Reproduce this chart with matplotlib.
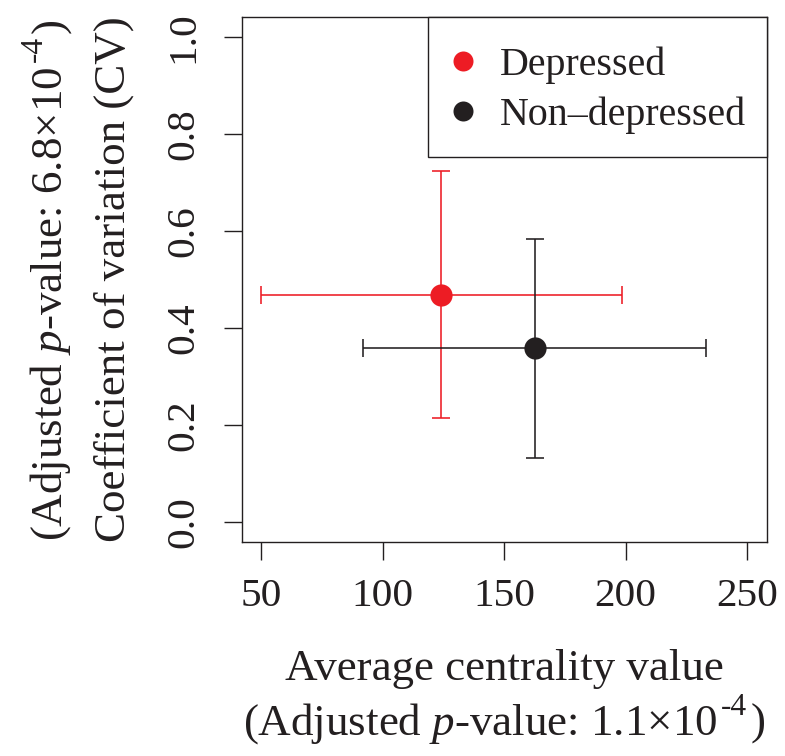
import matplotlib
matplotlib.use("Agg")
import matplotlib.pyplot as plt
from matplotlib.lines import Line2D
from matplotlib.patches import Rectangle
from matplotlib.transforms import IdentityTransform

plt.rcParams["font.family"] = ["Liberation Serif", "DejaVu Serif"]
plt.rcParams["mathtext.fontset"] = "custom"
plt.rcParams["mathtext.rm"] = "Liberation Serif"
plt.rcParams["mathtext.it"] = "Liberation Serif:italic"

# data
groups = ["Depressed", "Non\u2013depressed"]
colors = ["#ED1C24", "#231F20"]
centrality_mean = [124.2, 162.5]
centrality_err = [74.3, 70.5]
cv_mean = [0.469, 0.358]
cv_err = [0.254, 0.225]
x_ticks = [50, 100, 150, 200, 250]
y_ticks = [0.0, 0.2, 0.4, 0.6, 0.8, 1.0]

INK = "#231F20"
W, H = 785, 756
LABEL_SIZE = 32.4

fig = plt.figure(figsize=(W / 100, H / 100), dpi=100)
ax = fig.add_axes([241.7 / W, 1 - 541.7 / H, (766.7 - 241.7) / W, (541.7 - 17.3) / H])

for i in range(len(groups)):
    ax.errorbar(
        centrality_mean[i], cv_mean[i],
        xerr=centrality_err[i], yerr=cv_err[i],
        fmt="none", ecolor=colors[i],
        elinewidth=1.15, capsize=6.8, capthick=1.15, zorder=2
    )
    ax.plot(centrality_mean[i], cv_mean[i], "o", color=colors[i], ms=16, mew=0, zorder=3)

ax.set_xlim(42, 258)
ax.set_ylim(-0.04, 1.04)
ax.set_xticks(x_ticks)
ax.set_yticks(y_ticks)
ax.set_xticklabels([str(t) for t in x_ticks])
ax.set_yticklabels([f"{t:.1f}" for t in y_ticks])

for side in ax.spines.values():
    side.set_linewidth(1.0)
    side.set_color(INK)
ax.tick_params(axis="both", length=13, width=1.0, color=INK,
               labelsize=29.6, labelcolor=INK)
ax.tick_params(axis="x", pad=13)
ax.tick_params(axis="y", pad=15)
for lab in ax.get_yticklabels():
    lab.set_rotation(90)
    lab.set_va("center")

# legend: box drawn on its own, entries placed inside it
ax_w, ax_h = 766.7 - 241.7, 541.7 - 17.3
box_l, box_r, box_t, box_b = 428.3, 766.7, 17.3, 156.7
ax.add_patch(Rectangle(((box_l - 241.7) / ax_w, (541.7 - box_b) / ax_h),
                       (box_r - box_l) / ax_w, (box_b - box_t) / ax_h,
                       transform=ax.transAxes, facecolor="white", edgecolor=INK,
                       linewidth=1.0, zorder=4, clip_on=False))
handles = [
    Line2D([], [], linestyle="none", marker="o", ms=14.4, mew=0, color=c)
    for c in colors
]
leg = ax.legend(
    handles, groups, loc="center left",
    bbox_to_anchor=((453.3 - 241.7) / ax_w, (541.7 - 90) / ax_h),
    frameon=False, fontsize=28.8, borderpad=0, borderaxespad=0,
    labelspacing=0.3, handlelength=0.5, handletextpad=0.67
)
leg.set_zorder(5)
for t in leg.get_texts():
    t.set_color(INK)


def pval_line(pieces, center, baseline, rotated=False):
    # pieces: (text, size, raise_px, gap_after_px)
    renderer = fig.canvas.get_renderer()
    widths = []
    for s, size, _, _ in pieces:
        t = fig.text(0, 0, s, fontsize=size)
        widths.append(t.get_window_extent(renderer).width)
        t.remove()
    total = sum(widths) + sum(p[3] for p in pieces)
    pos = center - total / 2
    for (s, size, lift, gap), w in zip(pieces, widths):
        if rotated:
            fig.text(baseline - lift, pos, s, fontsize=size, color=INK,
                     rotation=90, rotation_mode="anchor", ha="left",
                     va="baseline", transform=IdentityTransform())
        else:
            fig.text(pos, baseline + lift, s, fontsize=size, color=INK,
                     ha="left", va="baseline", transform=IdentityTransform())
        pos += w + gap


def pieces_for(value):
    return [
        (r"(Adjusted $\mathit{p}$-value: " + value + r"$\times$10", LABEL_SIZE, 0, 4),
        ("-4", LABEL_SIZE * 0.7, 20, 3),
        (")", LABEL_SIZE, 0, 0),
    ]


cx = (241.7 + 766.7) / 2
cy = H - (17.3 + 541.7) / 2
fig.text(cx / W, 1 - 680 / H, "Average centrality value", ha="center",
         va="baseline", fontsize=LABEL_SIZE, color=INK)
pval_line(pieces_for("1.1"), cx, H - 735)

fig.text(125 / W, cy / H, "Coefficient of variation (CV)", rotation=90,
         rotation_mode="anchor", ha="center", va="baseline",
         fontsize=LABEL_SIZE, color=INK)
pval_line(pieces_for("6.8"), cy, 62, rotated=True)

fig.savefig("out.png", dpi=100)
